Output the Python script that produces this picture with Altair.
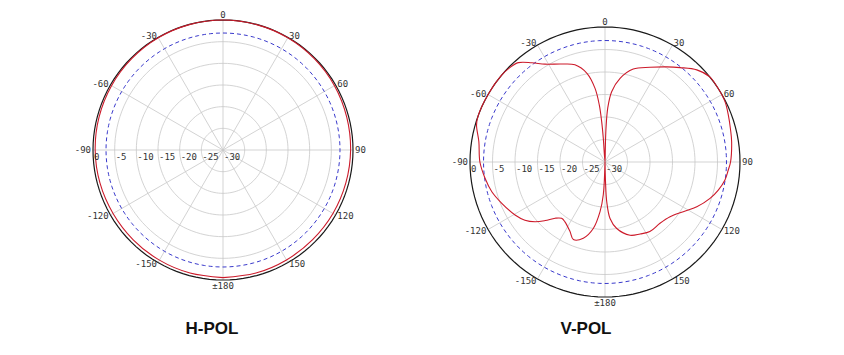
import altair as alt
import pandas as pd

# ---------------- data ----------------
DB_MIN = -30
ring_db = [-25, -20, -15, -10, -5]
half_power_db = [-3]
outer_db = [0]
scale_label_db = [0, -5, -10, -15, -20, -25, -30]
scale_label_text = ["0", "-5", "-10", "-15", "-20", "-25", "-30"]
spoke_deg = [0, 30, 60, 90, 120, 150, 180, 210, 240, 270, 300, 330]
angle_label_deg = [0, 30, 60, 90, 120, 150, 180, -150, -120, -90, -60, -30]
angle_label_text = ["0", "30", "60", "90", "120", "150", "±180",
                    "-150", "-120", "-90", "-60", "-30"]
titles = ["H-POL", "V-POL"]

h_deg = [-180, -165, -150, -135, -120, -105, -90, -75, -60, -45, -30, -15,
         0, 15, 30, 45, 60, 75, 90, 105, 120, 135, 150, 165, 180]
h_db = [-0.55, -0.6, -0.65, -0.7, -0.7, -0.6, -0.5, -0.4, -0.3, -0.2, -0.1, -0.05,
        0.0, -0.05, -0.1, -0.2, -0.3, -0.45, -0.55, -0.65, -0.7, -0.75, -0.7, -0.6, -0.55]

v_deg = [-180, -177, -174.3, -170, -164.1, -157.8, -153.3, -146.2, -142.4, -138.4,
         -134.4, -130.5, -126, -120.5, -111.8, -104.7, -97.7, -90, -80.8, -74,
         -70, -60, -50, -45.4, -41.1, -36.4, -31.5, -23.8, -17.2, -11.5,
         -7.7, -5.7, -4.7, -4.1, -1,
         1.3, 1.7, 2.9, 5.4, 10.2, 16.9, 25.4, 33, 38.5, 44.9,
         50.9, 56.4, 63.3, 69.1, 75.7, 80.9, 90, 93.7, 98.5, 103.9,
         109.1, 116, 122.4, 130.1, 138.1, 147.2, 154, 161.1, 170, 174.9,
         177.5, 178.5, 180]
v_db = [-30, -22.7, -18.9, -15, -12.4, -11.4, -12.7, -14, -14.2, -13.3,
        -11.4, -9.55, -8.0, -6.8, -5.3, -4.0, -3.1, -2.2, -1.6, -0.3,
        0, 0, 0, -0.2, -0.7, -2.6, -4.5, -6.2, -7.4, -9.9,
        -13.5, -17.3, -21, -24.7, -30,
        -27, -22.5, -18, -14.3, -11.1, -8.4, -6.7, -4.8, -3.2, -1.1,
        0, 0, -0.15, -0.67, -1.2, -1.5, -2.1, -2.55, -3.05, -4.07,
        -5.3, -7.3, -9.4, -11.1, -11.7, -11.6, -12.2, -12.8, -15, -17.4,
        -21.2, -25.6, -30]

# ---------------- styling ----------------
GRID = "#c8c8c8"
RED = "#cc1a2a"
BLUE = "#3a3acc"
LABEL_FONT = "DejaVu Sans Mono"
TITLE_FONT = "Liberation Sans"
circle_steps = list(range(0, 361, 3))

XEXPR = "(datum.db - ({m})) * sin(datum.a * PI / 180)".format(m=DB_MIN)
YEXPR = "(datum.db - ({m})) * cos(datum.a * PI / 180)".format(m=DB_MIN)
SPAN = -DB_MIN


def panel(deg, db, title, cx, cy, R, W, H, tx, ty):
    k = R / SPAN
    xs = alt.Scale(domain=[-cx / k, (W - cx) / k], nice=False, zero=False)
    ys = alt.Scale(domain=[-(H - cy) / k, cy / k], nice=False, zero=False)
    X = lambda f: alt.X(f, type="quantitative", scale=xs, axis=None)
    Y = lambda f: alt.Y(f, type="quantitative", scale=ys, axis=None)

    def circles(vals):
        return pd.DataFrame([{"db": v, "a": a} for v in vals for a in circle_steps])

    grid = alt.Chart(circles(ring_db)).transform_calculate(x=XEXPR, y=YEXPR).mark_line(
        color=GRID, strokeWidth=0.8).encode(x=X("x"), y=Y("y"), detail="db:N", order="a:Q")

    spokes = alt.Chart(pd.DataFrame({"a": spoke_deg})).transform_calculate(
        x0="0", y0="0",
        x1="{s} * sin(datum.a * PI / 180)".format(s=SPAN),
        y1="{s} * cos(datum.a * PI / 180)".format(s=SPAN),
    ).mark_rule(color=GRID, strokeWidth=0.8).encode(
        x=X("x0"), y=Y("y0"), x2="x1:Q", y2="y1:Q")

    half = alt.Chart(circles(half_power_db)).transform_calculate(x=XEXPR, y=YEXPR).mark_line(
        color=BLUE, strokeWidth=1, strokeDash=[4, 3]).encode(
        x=X("x"), y=Y("y"), detail="db:N", order="a:Q")

    outer = alt.Chart(circles(outer_db)).transform_calculate(x=XEXPR, y=YEXPR).mark_line(
        color="#1a1a1a", strokeWidth=1.2).encode(
        x=X("x"), y=Y("y"), detail="db:N", order="a:Q")

    pat = alt.Chart(pd.DataFrame({"a": deg, "db": db})).transform_calculate(
        x=XEXPR, y=YEXPR).mark_line(
        color=RED, strokeWidth=1.1, interpolate="catmull-rom").encode(
        x=X("x"), y=Y("y"), order="a:Q")

    scale_lbl = alt.Chart(pd.DataFrame({"db": scale_label_db, "t": scale_label_text})).transform_calculate(
        x="-(datum.db - ({m}))".format(m=DB_MIN), y="0").mark_text(
        align="left", baseline="middle", dx=1, dy=7, font=LABEL_FONT, fontSize=9,
        color="#333333").encode(x=X("x"), y=Y("y"), text="t:N")

    ang_df = pd.DataFrame({"a": angle_label_deg, "t": angle_label_text})

    def ang_layer(filt, align, off_px):
        r = SPAN + off_px / k
        return alt.Chart(ang_df).transform_filter(filt).transform_calculate(
            x="{r} * sin(datum.a * PI / 180)".format(r=r),
            y="{r} * cos(datum.a * PI / 180)".format(r=r),
        ).mark_text(align=align, baseline="middle", font=LABEL_FONT, fontSize=9,
                    color="#333333").encode(x=X("x"), y=Y("y"), text="t:N")

    ang_c = ang_layer("datum.a == 0 || abs(datum.a) == 180", "center", 5.5)
    ang_l = ang_layer("datum.a > 0 && datum.a < 180", "left", 2)
    ang_r = ang_layer("datum.a < 0 && datum.a > -180", "right", 2)

    ttl = alt.Chart(pd.DataFrame({"t": [title]})).mark_text(
        font=TITLE_FONT, fontSize=17, fontWeight="bold", color="#111111",
        align="center", baseline="middle").encode(
        x=alt.value(tx), y=alt.value(ty), text="t:N")

    return alt.layer(grid, spokes, half, outer, pat, scale_lbl, ang_c, ang_l, ang_r, ttl).properties(
        width=W, height=H)


pA = panel(h_deg, h_db, titles[0], cx=223, cy=150, R=130, W=420, H=355, tx=212, ty=329)
pB = panel(v_deg, v_db, titles[1], cx=185, cy=162, R=135, W=424, H=355, tx=166, ty=329)

chart = alt.hconcat(pA, pB, spacing=0, bounds="flush").properties(
    padding=0, background="white").configure_view(stroke=None)

chart.save("out.html", embed_options={"renderer": "svg", "actions": False})
